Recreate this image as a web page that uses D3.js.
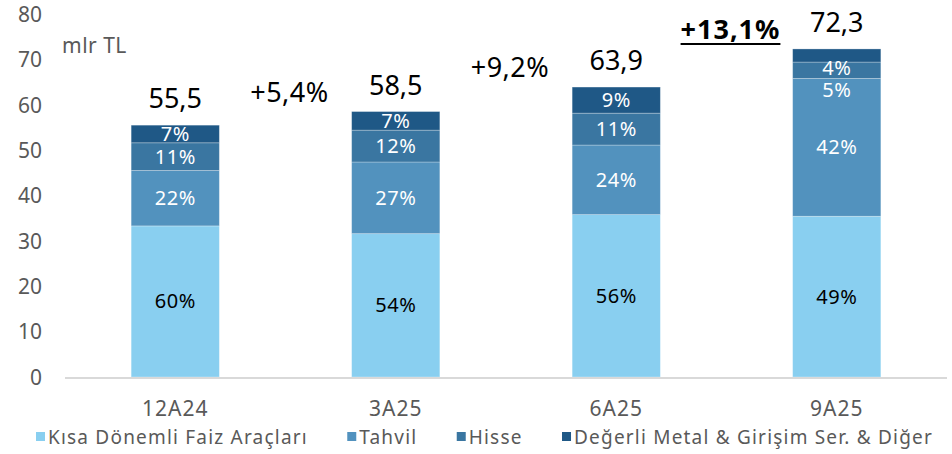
<!DOCTYPE html>
<html>
<head>
<meta charset="utf-8">
<title>Portföy dağılımı</title>
<style>
body { margin: 0; background: #fff; }
#chart text { font-family: "Noto Sans", sans-serif; }
.tick-label { fill: #595959; font-size: 21px; }
.legend-label { fill: #595959; font-size: 19px; letter-spacing: 1.2px; }
</style>
</head>
<body>
<svg id="chart" width="952" height="454"></svg>
<script src="https://d3js.org/d3.v7.min.js"></script>
<script>
// veriler
const periods = ["12A24", "3A25", "6A25", "9A25"];
const totals = [55.5, 58.5, 63.9, 72.3];
const series = ["Kısa Dönemli Faiz Araçları", "Tahvil", "Hisse", "Değerli Metal & Girişim Ser. & Diğer"];
// her dönem için yüzde payları (alttan üste)
const kisaPct = [60, 54, 56, 49];
const tahvilPct = [22, 27, 24, 42];
const hissePct = [11, 12, 11, 5];
const digerPct = [7, 7, 9, 4];
const growthLabels = ["+5,4%", "+9,2%", "+13,1%"];
const yTicks = [0, 10, 20, 30, 40, 50, 60, 70, 80];
const unitLabel = "mlr TL";

const colors = ["#89cff0", "#5292be", "#3a76a1", "#1f5886"];
const labelColors = ["#000", "#fff", "#fff", "#fff"];

const svg = d3.select("#chart");
const plot = { left: 65, right: 947, top: 14, bottom: 377 };

const x = d3.scaleBand()
  .domain(periods)
  .range([plot.left, plot.right])
  .paddingInner(0.6)
  .paddingOuter(0.3);

const y = d3.scaleLinear()
  .domain([0, 80])
  .range([plot.bottom, plot.top]);

// yığın verisi
const pctRows = [kisaPct, tahvilPct, hissePct, digerPct];
const stackData = periods.map((p, i) => {
  const row = { period: p };
  series.forEach((s, k) => { row[s] = pctRows[k][i] * totals[i] / 100; });
  return row;
});
const stacked = d3.stack().keys(series)(stackData);

// y ekseni etiketleri
const yAxis = d3.axisLeft(y).tickValues(yTicks).tickSize(0).tickPadding(0);
const yg = svg.append("g")
  .attr("transform", `translate(42,0)`)
  .call(yAxis);
yg.select(".domain").remove();
yg.selectAll("text")
  .attr("class", "tick-label")
  .attr("font-size", null)
  .attr("font-family", null)
  .attr("fill", null)
  .attr("dy", "0.35em");

svg.append("text")
  .attr("class", "tick-label")
  .attr("x", 62)
  .attr("y", 53)
  .attr("letter-spacing", 0.5)
  .text(unitLabel);

// çubuklar
const layers = svg.append("g").selectAll("g")
  .data(stacked)
  .join("g")
  .attr("fill", (d, k) => colors[k]);

layers.selectAll("rect")
  .data(d => d)
  .join("rect")
  .attr("x", d => x(d.data.period))
  .attr("width", x.bandwidth())
  .attr("y", d => y(d[1]))
  .attr("height", d => y(d[0]) - y(d[1]))
  .attr("stroke", "rgba(255,255,255,0.35)")
  .attr("stroke-width", 0.8);

// yüzde etiketleri (üstten alta, çakışmayı önle)
periods.forEach((p, i) => {
  let prev = -Infinity;
  for (let k = series.length - 1; k >= 0; k--) {
    const seg = stacked[k][i];
    const top = y(seg[1]), bot = y(seg[0]);
    let cy = (top + bot) / 2;
    if (bot - top < 14) cy = bot + 6;
    if (cy < prev + 22) cy = prev + 22;
    prev = cy;
    svg.append("text")
      .attr("x", x(p) + x.bandwidth() / 2)
      .attr("y", cy)
      .attr("dy", "0.35em")
      .attr("text-anchor", "middle")
      .attr("font-size", 20)
      .attr("letter-spacing", 0.5)
      .attr("fill", labelColors[k])
      .text(pctRows[k][i] + "%");
  }
});

// x ekseni çizgisi
svg.append("line")
  .attr("x1", plot.left)
  .attr("x2", plot.right)
  .attr("y1", y(0) + 1)
  .attr("y2", y(0) + 1)
  .attr("stroke", "#d9d9d9")
  .attr("stroke-width", 2);

// x ekseni etiketleri
const xAxis = d3.axisBottom(x).tickSize(0).tickPadding(0);
const xg = svg.append("g")
  .attr("transform", `translate(0,${y(0) + 39})`)
  .call(xAxis);
xg.select(".domain").remove();
xg.selectAll("text")
  .attr("class", "tick-label")
  .attr("font-size", null)
  .attr("font-family", null)
  .attr("fill", null)
  .attr("letter-spacing", 1)
  .attr("dy", "0");

// toplam etiketleri
const fmt = v => v.toFixed(1).replace(".", ",");
svg.append("g").selectAll("text")
  .data(periods)
  .join("text")
  .attr("x", p => x(p) + x.bandwidth() / 2)
  .attr("y", (p, i) => y(totals[i]) - 17)
  .attr("text-anchor", "middle")
  .attr("font-size", 27)
  .attr("fill", "#000")
  .text((p, i) => fmt(totals[i]));

// büyüme etiketleri
growthLabels.forEach((g, i) => {
  const cx = (x(periods[i]) + x(periods[i + 1]) + x.bandwidth()) / 2 + 4;
  const by = y(totals[i + 1]) - 10;
  const last = i === growthLabels.length - 1;
  const t = svg.append("text")
    .attr("x", cx)
    .attr("y", by)
    .attr("text-anchor", "middle")
    .attr("font-size", 27)
    .attr("font-weight", last ? "bold" : "normal")
    .attr("letter-spacing", last ? 1 : 0.5)
    .attr("fill", "#000")
    .text(g);
  if (last) {
    const w = t.node().getComputedTextLength();
    svg.append("line")
      .attr("x1", cx - w / 2)
      .attr("x2", cx + w / 2)
      .attr("y1", by + 5)
      .attr("y2", by + 5)
      .attr("stroke", "#000")
      .attr("stroke-width", 2);
  }
});

// lejant: 36 ile 933 arasına yay
const legend = svg.append("g").attr("transform", "translate(36,437)");
const items = series.map((s, k) => {
  const item = legend.append("g");
  item.append("rect")
    .attr("x", 0).attr("y", -5)
    .attr("width", 9).attr("height", 9)
    .attr("fill", colors[k]);
  const t = item.append("text")
    .attr("class", "legend-label")
    .attr("x", 12)
    .attr("dy", "0.35em")
    .text(s);
  return { item, w: 12 + t.node().getComputedTextLength() };
});
const totalW = d3.sum(items, d => d.w);
const gap = (933 - 36 - totalW) / (items.length - 1);
let lx = 0;
items.forEach(d => {
  d.item.attr("transform", `translate(${lx},0)`);
  lx += d.w + gap;
});
</script>
</body>
</html>
